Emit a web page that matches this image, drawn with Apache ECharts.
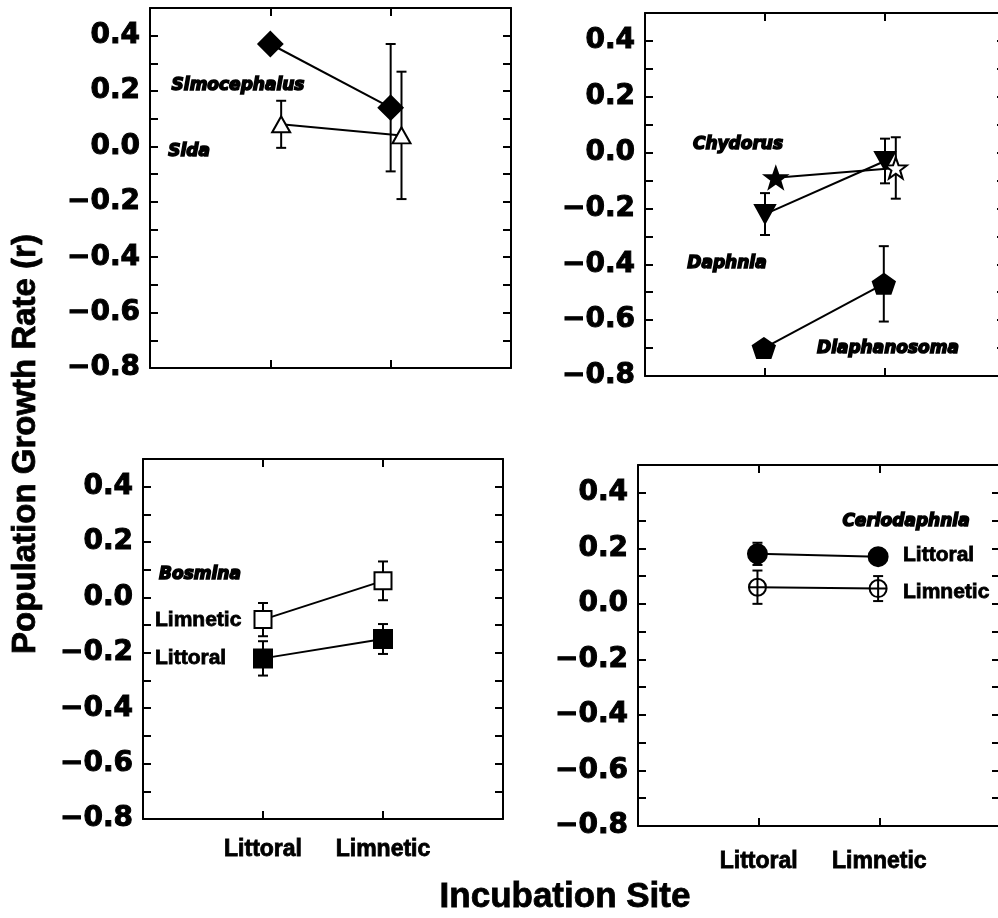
<!DOCTYPE html>
<html>
<head>
<meta charset="utf-8">
<script src="https://cdn.jsdelivr.net/npm/echarts@6/dist/echarts.min.js"></script>
<style>
  html, body { margin: 0; padding: 0; background: #fff; }
  #chart { width: 998px; height: 918px; }
</style>
</head>
<body>
<div id="chart"></div>
<script>
// Incubation sites, plotted at x = 1 and x = 2
const sites = ['Littoral', 'Limnetic'];
// Labelled growth-rate ticks on every y axis
const yTickLabels = [-0.8, -0.6, -0.4, -0.2, 0.0, 0.2, 0.4];

// Mean growth rate r and its error half-width per site [Littoral, Limnetic]
// (null = no error bar drawn)
const simocephalusR  = [0.37, 0.14];
const simocephalusSE = [null, 0.23];
const sidaR          = [0.08, 0.04];
const sidaSE         = [0.085, 0.23];

const chydorusR       = [-0.09, -0.055];
const chydorusSE      = [null, 0.11];
const daphniaR        = [-0.22, -0.03];
const daphniaSE       = [0.075, 0.08];
const diaphanosomaR   = [-0.70, -0.47];
const diaphanosomaSE  = [null, 0.135];

const bosminaLimneticR  = [-0.08, 0.06];
const bosminaLimneticSE = [0.06, 0.07];
const bosminaLittoralR  = [-0.22, -0.15];
const bosminaLittoralSE = [0.062, 0.054];

const ceriodaphniaLittoralR  = [0.18, 0.17];
const ceriodaphniaLittoralSE = [0.04, null];
const ceriodaphniaLimneticR  = [0.06, 0.055];
const ceriodaphniaLimneticSE = [0.06, 0.045];

// ---- marker shapes ----
const STAR = 'path://M10,0 L12.35,6.76 L19.51,6.91 L13.80,11.24 L15.88,18.09 L10,14 L4.12,18.09 L6.20,11.24 L0.49,6.91 L7.65,6.76 Z';
const PENTAGON = 'path://M10,0 L19.51,6.91 L15.88,18.09 L4.12,18.09 L0.49,6.91 Z';
const DOWN_TRIANGLE = 'path://M0,0 L20,0 L10,18 Z';
const CROSSED_CIRCLE = 'path://M0,10 A10,10 0 1,1 20,10 A10,10 0 1,1 0,10 Z M10,0 L10,20 M0,10 L20,10';

// ---- panel layout ----
const panels = [
  { left: 150, top: 8,   width: 361, height: 360, showSites: false },
  { left: 645, top: 13,  width: 360, height: 363, showSites: false },
  { left: 143, top: 459, width: 360, height: 360, showSites: true, labelMargin: 19 },
  { left: 638, top: 465, width: 362, height: 361, showSites: true, labelMargin: 24 }
];

// ---- series description ----
const groups = [
  { panel: 0, r: simocephalusR, se: simocephalusSE, symbol: 'diamond', size: [24, 24], filled: true, dodge: 0 },
  { panel: 0, r: sidaR, se: sidaSE, symbol: 'triangle', size: [18, 16], filled: false, dodge: 0.09 },
  { panel: 1, r: chydorusR, se: chydorusSE, symbol: STAR, size: [22, 21], filled: true, dodge: 0.09, openLast: true },
  { panel: 1, r: daphniaR, se: daphniaSE, symbol: DOWN_TRIANGLE, size: [20, 18], filled: true, dodge: 0 },
  { panel: 1, r: diaphanosomaR, se: diaphanosomaSE, symbol: PENTAGON, size: [22, 20], filled: true, dodge: -0.01 },
  { panel: 2, r: bosminaLimneticR, se: bosminaLimneticSE, symbol: 'rect', size: [17, 17], filled: false, dodge: 0 },
  { panel: 2, r: bosminaLittoralR, se: bosminaLittoralSE, symbol: 'rect', size: [18, 18], filled: true, dodge: 0 },
  { panel: 3, r: ceriodaphniaLittoralR, se: ceriodaphniaLittoralSE, symbol: 'circle', size: [19, 19], filled: true, dodge: -0.01 },
  { panel: 3, r: ceriodaphniaLimneticR, se: ceriodaphniaLimneticSE, symbol: CROSSED_CIRCLE, size: [17, 17], filled: false, dodge: -0.01 }
];

const BLACK = '#000';
const TICK_FONT = '"DejaVu Sans", sans-serif';
const WORD_FONT = '"Liberation Sans", Arial, sans-serif';

const axisLine = { show: true, onZero: false, lineStyle: { color: BLACK, width: 2 } };
const axisTick = { show: true, inside: true, length: 8, lineStyle: { color: BLACK, width: 2 } };

function yLabel(v) {
  const hit = yTickLabels.find(t => Math.abs(t - v) < 1e-6);
  if (hit === undefined) return '';
  return (hit < 0 ? '\u2212' : '') + Math.abs(hit).toFixed(1);
}

const grid = [], xAxis = [], yAxis = [], series = [];

panels.forEach((p, i) => {
  grid.push({ left: p.left, top: p.top, width: p.width, height: p.height,
              show: false, containLabel: false, outerBoundsMode: 'none' });
  // bottom and top x axes (the top one mirrors the ticks)
  xAxis.push({
    type: 'value', gridIndex: i, position: 'bottom', min: 0, max: 3, interval: 1,
    axisLine, axisTick, splitLine: { show: false },
    axisLabel: {
      show: p.showSites, margin: p.labelMargin || 8,
      formatter: v => sites[Math.round(v) - 1] && Math.abs(v - Math.round(v)) < 1e-6 ? sites[Math.round(v) - 1] : '',
      fontFamily: WORD_FONT, fontWeight: 'bold', fontSize: 23, color: BLACK,
      textBorderColor: BLACK, textBorderWidth: 0.8,
      showMinLabel: true, showMaxLabel: true
    }
  });
  xAxis.push({
    type: 'value', gridIndex: i, position: 'top', min: 0, max: 3, interval: 1,
    axisLine, axisTick, splitLine: { show: false }, axisLabel: { show: false }
  });
  // left and right y axes
  yAxis.push({
    type: 'value', gridIndex: i, position: 'left', min: -0.8, max: 0.5, interval: 0.1,
    axisLine, axisTick, splitLine: { show: false },
    axisLabel: {
      show: true, margin: 10, formatter: yLabel,
      fontFamily: TICK_FONT, fontWeight: 'bold', fontSize: 28, color: BLACK,
      textBorderColor: BLACK, textBorderWidth: 1,
      showMinLabel: true, showMaxLabel: true
    }
  });
  yAxis.push({
    type: 'value', gridIndex: i, position: 'right', min: -0.8, max: 0.5, interval: 0.1,
    axisLine, axisTick, splitLine: { show: false }, axisLabel: { show: false }
  });
});

function errorBars(g) {
  const data = [];
  g.r.forEach((v, k) => {
    if (g.se[k] != null) data.push([k + 1 + g.dodge, v - g.se[k], v + g.se[k]]);
  });
  return {
    type: 'custom', xAxisIndex: g.panel * 2, yAxisIndex: g.panel * 2,
    data, z: 2, silent: true, animation: false,
    encode: { x: 0, y: [1, 2] },
    renderItem(params, api) {
      const lo = api.coord([api.value(0), api.value(1)]);
      const hi = api.coord([api.value(0), api.value(2)]);
      const cap = 5;
      const style = { stroke: BLACK, lineWidth: 2, fill: null };
      return {
        type: 'group',
        children: [
          { type: 'line', shape: { x1: lo[0], y1: lo[1], x2: hi[0], y2: hi[1] }, style },
          { type: 'line', shape: { x1: lo[0] - cap, y1: lo[1], x2: lo[0] + cap, y2: lo[1] }, style },
          { type: 'line', shape: { x1: hi[0] - cap, y1: hi[1], x2: hi[0] + cap, y2: hi[1] }, style }
        ]
      };
    }
  };
}

groups.forEach(g => {
  series.push(errorBars(g));
  series.push({
    type: 'line', xAxisIndex: g.panel * 2, yAxisIndex: g.panel * 2,
    data: g.r.map((v, k) => {
      const pt = { value: [k + 1 + g.dodge, v] };
      if (g.openLast && k === g.r.length - 1) pt.itemStyle = { color: '#fff' };
      return pt;
    }),
    symbol: g.symbol, symbolSize: g.size, showSymbol: true,
    itemStyle: { color: g.filled ? BLACK : '#fff', borderColor: BLACK, borderWidth: 2, opacity: 1 },
    lineStyle: { color: BLACK, width: 2 },
    z: 3, silent: true, animation: false,
    emphasis: { disabled: true }
  });
});

// ---- text annotations ----
function label(text, x, y, font, align, extra) {
  return {
    type: 'text', x, y, silent: true, z: 10,
    style: Object.assign({
      text, font, fill: BLACK, textAlign: align || 'center',
      textVerticalAlign: 'middle', verticalAlign: 'middle'
    }, extra || {})
  };
}
const SPECIES_FONT = 'italic bold 17px ' + TICK_FONT;
const heavy = { stroke: BLACK, lineWidth: 1.5 };
const bold = { stroke: BLACK, lineWidth: 0.8 };
const WORD = 'bold 21px ' + WORD_FONT;

const graphic = [
  label('Simocephalus', 238, 86, SPECIES_FONT, 'center', heavy),
  label('Sida', 189, 152, SPECIES_FONT, 'center', heavy),
  label('Chydorus', 738, 145, SPECIES_FONT, 'center', heavy),
  label('Daphnia', 727, 264, SPECIES_FONT, 'center', heavy),
  label('Diaphanosoma', 888, 349, SPECIES_FONT, 'center', heavy),
  label('Bosmina', 200, 575, SPECIES_FONT, 'center', heavy),
  label('Ceriodaphnia', 906, 522, SPECIES_FONT, 'center', heavy),
  label('Limnetic', 155, 620, WORD, 'left', bold),
  label('Littoral', 155, 658, WORD, 'left', bold),
  label('Littoral', 903, 555, WORD, 'left', bold),
  label('Limnetic', 903, 592, WORD, 'left', bold),
  label('Incubation Site', 565, 897, 'bold 35px ' + WORD_FONT, 'center', bold),
  Object.assign(label('Population Growth Rate (r)', 26, 444, 'bold 33px ' + WORD_FONT, 'center', bold),
                { rotation: Math.PI / 2 })
];

const chart = echarts.init(document.getElementById('chart'), null, { renderer: 'canvas' });
chart.setOption({
  backgroundColor: '#fff',
  animation: false,
  tooltip: { show: false },
  grid, xAxis, yAxis, series, graphic
});
</script>
</body>
</html>
